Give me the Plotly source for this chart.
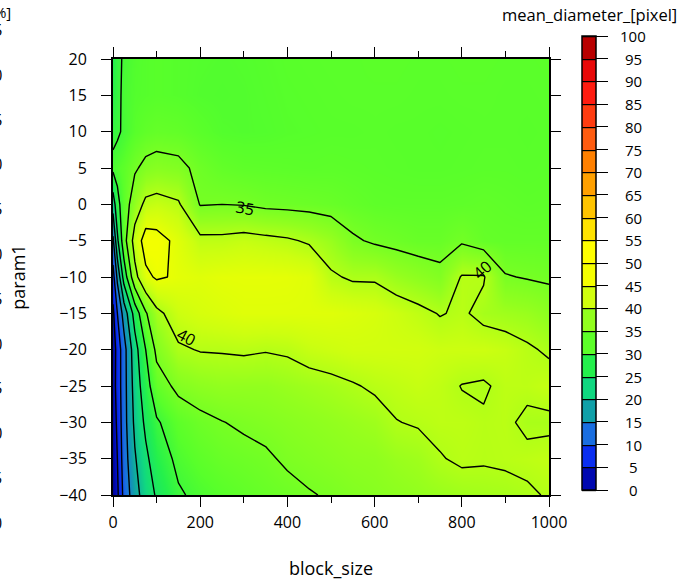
import plotly.graph_objects as go

# ---------------- data ----------------
block_size = [0, 10, 25, 50, 75, 100, 150, 200, 250, 300, 350, 400, 450, 500,
              550, 600, 650, 700, 750, 800, 850, 900, 950, 1000]
param1 = [-40, -35, -30, -25, -20, -15, -10, -5, 0, 5, 10, 15, 20]

# mean_diameter_[pixel], one row per param1 value (bottom to top)
row_m40 = [1.0, 4.0, 11.5, 18.0, 22.5, 25.5, 29.5, 31.0, 32.0, 32.8, 33.5, 34.0, 34.8, 35.3, 36.0, 36.5, 37.0, 37.5, 38.0, 38.5, 38.8, 39.0, 39.5, 40.3]
row_m35 = [1.5, 5.0, 12.5, 19.5, 24.0, 27.5, 31.0, 32.5, 33.5, 34.0, 34.5, 35.5, 36.0, 36.5, 37.0, 37.2, 38.0, 38.5, 39.8, 40.5, 40.3, 40.5, 40.8, 41.2]
row_m30 = [2.0, 6.0, 13.0, 21.0, 26.0, 29.5, 32.5, 34.0, 34.9, 35.5, 36.0, 36.5, 37.0, 37.5, 38.0, 38.5, 39.9, 40.3, 40.8, 40.8, 40.4, 40.6, 39.3, 39.3]
row_m25 = [2.5, 7.0, 13.0, 22.0, 28.0, 33.0, 36.0, 37.0, 37.5, 37.5, 37.5, 38.0, 38.5, 39.0, 39.7, 40.5, 41.0, 41.5, 41.0, 39.9, 39.6, 40.8, 40.8, 41.5]
row_m20 = [2.0, 7.0, 13.0, 23.0, 30.0, 36.0, 39.5, 40.2, 40.3, 40.5, 40.2, 40.5, 41.5, 42.0, 42.5, 42.5, 42.5, 42.5, 42.0, 42.0, 42.0, 41.5, 40.5, 39.5]
row_m15 = [4.0, 10.0, 17.0, 27.0, 34.5, 39.0, 42.0, 43.0, 43.5, 44.0, 44.0, 44.0, 44.0, 44.0, 43.5, 43.0, 42.0, 41.0, 39.8, 40.5, 39.0, 38.5, 38.0, 37.0]
row_m10 = [8.0, 16.0, 27.0, 38.5, 44.0, 45.5, 44.5, 44.0, 44.5, 44.6, 44.6, 44.5, 44.0, 40.5, 39.5, 39.5, 38.0, 37.0, 36.0, 40.3, 40.3, 35.2, 34.8, 34.5]
row_m05 = [14.0, 24.0, 33.0, 42.0, 47.0, 46.5, 44.0, 41.0, 41.0, 41.5, 41.0, 40.5, 39.5, 38.0, 35.5, 34.5, 34.0, 33.5, 33.5, 34.5, 33.2, 33.0, 33.0, 33.0]
row_p00 = [22.0, 28.5, 32.5, 37.5, 41.0, 41.5, 40.5, 34.8, 35.0, 34.8, 34.2, 34.0, 33.8, 33.5, 33.0, 32.6, 32.5, 32.5, 32.5, 32.6, 32.8, 32.6, 32.4, 32.5]
row_p05 = [31.0, 31.5, 32.5, 34.5, 36.0, 36.5, 36.0, 34.0, 33.0, 32.6, 32.5, 32.4, 32.3, 32.4, 32.3, 32.2, 32.1, 32.0, 32.0, 32.1, 32.2, 32.2, 32.1, 32.2]
row_p10 = [29.0, 29.5, 30.5, 32.0, 32.8, 33.2, 33.0, 32.2, 31.6, 31.5, 31.6, 31.8, 31.9, 32.0, 32.0, 32.1, 32.0, 32.0, 31.9, 32.0, 32.1, 32.1, 32.0, 32.1]
row_p15 = [28.0, 29.0, 30.8, 31.6, 31.8, 32.0, 31.8, 31.5, 31.4, 31.5, 31.7, 31.9, 32.0, 32.1, 32.2, 32.2, 32.2, 32.1, 32.1, 32.2, 32.2, 32.1, 32.1, 32.2]
row_p20 = [27.5, 29.0, 30.5, 31.5, 31.8, 32.0, 31.8, 31.6, 31.5, 31.6, 31.8, 32.0, 32.1, 32.2, 32.2, 32.3, 32.3, 32.2, 32.2, 32.3, 32.3, 32.2, 32.2, 32.3]

mean_diameter = [row_m40, row_m35, row_m30, row_m25, row_m20, row_m15, row_m10,
                 row_m05, row_p00, row_p05, row_p10, row_p15, row_p20]

colorbar_ticks = list(range(0, 101, 5))

# labelled contours: (block_size, param1, text, angle)
contour_labels = [(303, -0.5, "35", 10), (168, -18.3, "40", 28), (846, -9.0, "40", -42)]

# fragment of the neighbouring panel's colour scale (cropped at the left edge)
left_scale_values = [55, 50, 45, 40, 35, 30, 25, 20, 15, 10, 5, 0]

# ---------------- style ----------------
FONT = "Open Sans"
jet = [
    [0.000, "#000085"], [0.025, "#0008b0"], [0.075, "#0a2ef0"], [0.125, "#1a6ee0"],
    [0.175, "#10a0a8"], [0.225, "#10d880"], [0.275, "#24f04c"], [0.320, "#58ff2a"],
    [0.375, "#92ff1e"], [0.420, "#ccff10"], [0.460, "#f2ff00"], [0.525, "#ffff00"],
    [0.575, "#ffe200"], [0.625, "#ffc400"], [0.675, "#ffa000"], [0.725, "#ff8000"],
    [0.775, "#ff5c10"], [0.825, "#ff3c10"], [0.875, "#ff1c10"], [0.925, "#e80808"],
    [0.975, "#b80000"], [1.000, "#a00000"],
]

W, H = 691, 580
L, R, T, B = 113, 142, 59, 85
pw, ph = W - L - R, H - T - B
CB_TOP, CB_BOTTOM = 36, 490          # colour bar extent in pixels


def px_x(px):
    return (px - L) / pw


def px_y(py):
    return (H - B - py) / ph


fig = go.Figure()

# smooth field + black contour lines
fig.add_trace(go.Contour(
    x=block_size, y=param1, z=mean_diameter,
    colorscale=jet, zmin=0, zmax=100,
    contours=dict(start=5, end=95, size=5, coloring="heatmap", showlines=True),
    line=dict(color="black", width=1.4, smoothing=0),
    showscale=False, hoverinfo="skip",
))

# invisible trace that only provides the stepped colour bar
fig.add_trace(go.Contour(
    x=block_size, y=param1, z=mean_diameter,
    colorscale=jet, zmin=0, zmax=100, opacity=0,
    contours=dict(start=0, end=100, size=5, coloring="fill", showlines=True),
    line=dict(color="black", width=1.2),
    hoverinfo="skip",
    colorbar=dict(
        thickness=14, thicknessmode="pixels",
        len=CB_BOTTOM - CB_TOP, lenmode="pixels",
        x=px_x(582), xanchor="left", xpad=0,
        y=px_y((CB_TOP + CB_BOTTOM) / 2), yanchor="middle", ypad=0,
        outlinecolor="black", outlinewidth=1.5,
        tickmode="array", tickvals=colorbar_ticks, showticklabels=False,
        ticks="outside", ticklen=12, tickcolor="black", tickwidth=1,
    ),
))

annotations = []
for bx, py, txt, ang in contour_labels:
    annotations.append(dict(x=bx, y=py, xref="x", yref="y", text=txt, showarrow=False,
                            textangle=ang, font=dict(family=FONT, size=16, color="black")))

# colour-bar tick labels (centred, as in the reference)
cb_lo, cb_hi = px_y(CB_BOTTOM), px_y(CB_TOP)
for v in colorbar_ticks:
    annotations.append(dict(x=px_x(633), y=cb_lo + (cb_hi - cb_lo) * v / 100.0,
                            xref="paper", yref="paper", text=str(v), showarrow=False,
                            xanchor="center", yanchor="middle",
                            font=dict(family=FONT, size=15, color="black")))

annotations.append(dict(x=px_x(679), y=px_y(14), xref="paper", yref="paper",
                        text="mean_diameter_[pixel]", showarrow=False,
                        xanchor="right", yanchor="middle",
                        font=dict(family=FONT, size=16.5, color="black")))

annotations.append(dict(x=px_x(13), y=px_y(12), xref="paper", yref="paper",
                        text="[%]", showarrow=False, xanchor="right", yanchor="middle",
                        font=dict(family=FONT, size=15, color="black")))
for i, v in enumerate(left_scale_values):
    annotations.append(dict(x=px_x(4), y=px_y(30 + 44.8 * i), xref="paper", yref="paper",
                            text=str(v), showarrow=False, xanchor="right", yanchor="middle",
                            font=dict(family=FONT, size=16, color="black")))

axis_common = dict(
    showline=True, linecolor="black", linewidth=2, mirror="ticks",
    ticks="outside", ticklen=10, tickwidth=1, tickcolor="black",
    showgrid=False, zeroline=False,
    tickfont=dict(family=FONT, size=16, color="black"),
)

fig.update_layout(
    width=W, height=H,
    margin=dict(l=L, r=R, t=T, b=B, autoexpand=False),
    paper_bgcolor="white", plot_bgcolor="white",
    font=dict(family=FONT, color="black"),
    xaxis=dict(range=[0, 1000], tick0=0, dtick=200, ticklabelstandoff=2,
               minor=dict(dtick=100, ticks="outside", ticklen=6, tickcolor="black", tickwidth=1),
               title=dict(text="block_size", font=dict(family=FONT, size=18), standoff=30),
               **axis_common),
    yaxis=dict(range=[-40, 20], tick0=-40, dtick=5, ticklabelstandoff=11,
               title=dict(text="param1", font=dict(family=FONT, size=18), standoff=29),
               **axis_common),
    annotations=annotations,
    showlegend=False,
)

fig.write_html("out.html", config={"displayModeBar": False},
               post_script="document.body.style.margin='0';")
